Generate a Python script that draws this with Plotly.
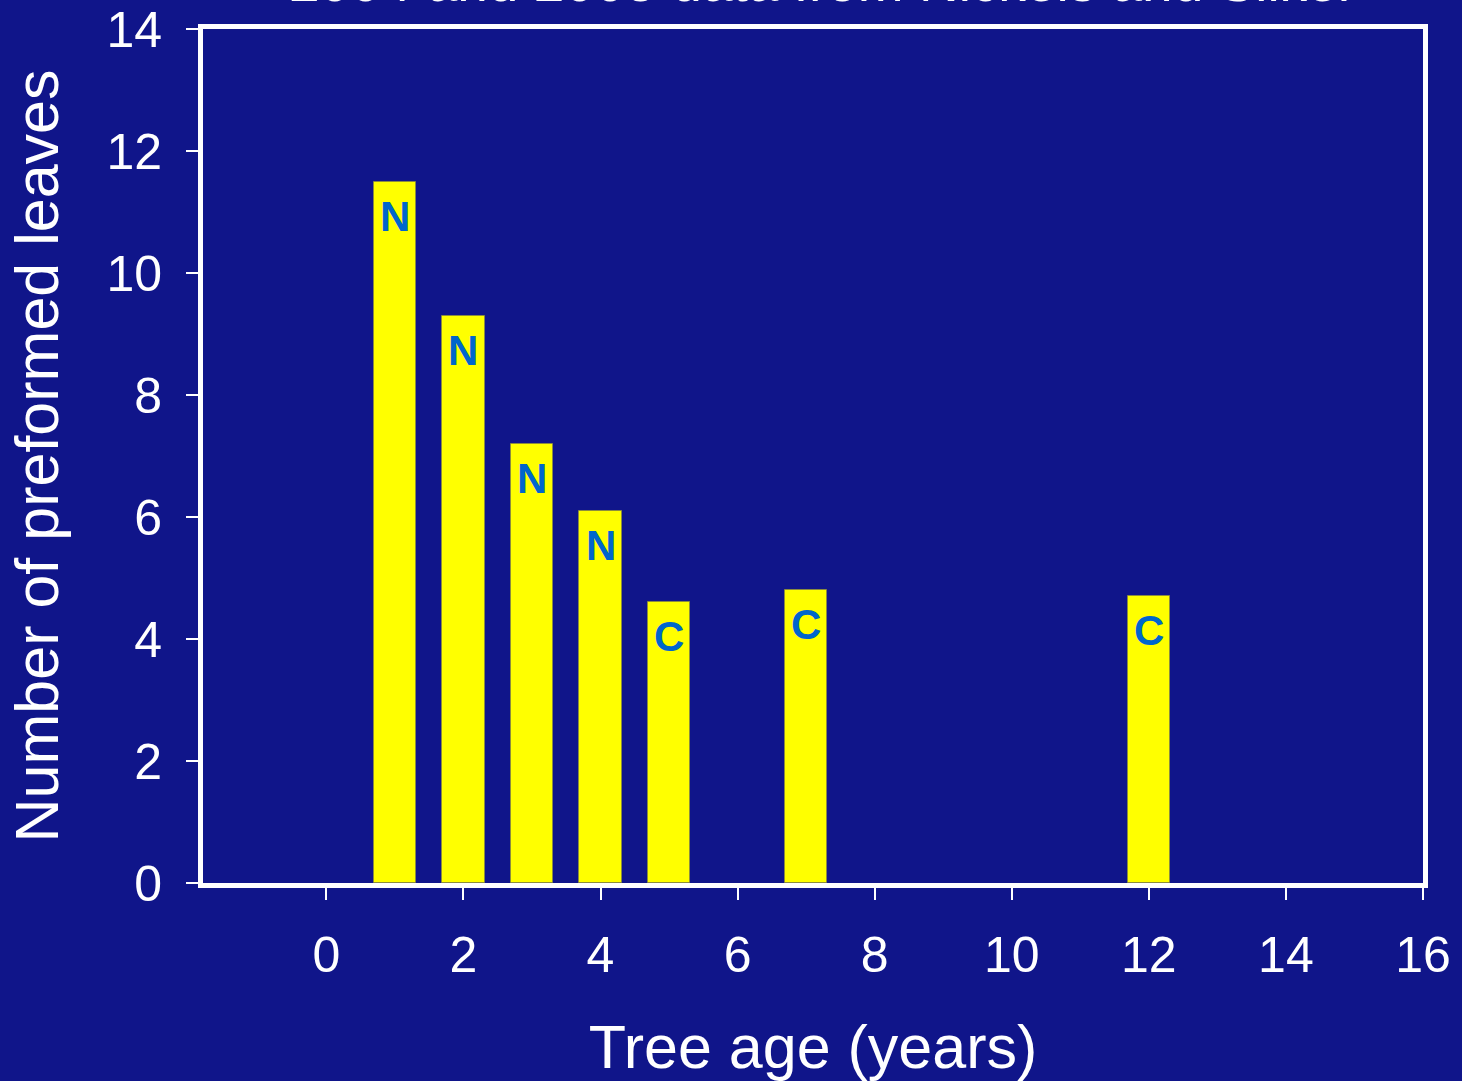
import plotly.graph_objects as go

# Data
ages = [1, 2, 3, 4, 5, 7, 12]
leaves = [11.5, 9.3, 7.2, 6.1, 4.6, 4.8, 4.7]
labels = ["N", "N", "N", "N", "C", "C", "C"]
x_ticks = [0, 2, 4, 6, 8, 10, 12, 14, 16]
y_ticks = [0, 2, 4, 6, 8, 10, 12, 14]

BG = "#10158A"
FONT = "Liberation Sans, Arial, sans-serif"

fig = go.Figure()
fig.add_trace(go.Bar(
    x=ages, y=leaves, width=0.62,
    marker=dict(color="#FFFF00", line=dict(color="rgba(140,140,60,0.8)", width=1)),
    showlegend=False, hoverinfo="x+y",
))

annotations = []
for a, v, t in zip(ages, leaves, labels):
    annotations.append(dict(
        x=a, y=v, xref="x", yref="y", text=t, showarrow=False,
        yanchor="top", yshift=-9,
        font=dict(family=FONT, size=42, color="#0066CC", weight="bold"),
    ))

annotations.append(dict(
    x=0.508, y=1, xref="paper", yref="paper", yanchor="bottom", xanchor="center",
    yshift=14, showarrow=False,
    text="2004 and 2005 data from Nickels and Silker",
    font=dict(family=FONT, size=55, color="white"),
))

axis_common = dict(
    showline=True, linewidth=5, linecolor="white", mirror=True,
    ticks="outside", ticklen=12, tickwidth=2, tickcolor="white",
    showgrid=False, zeroline=False, automargin=False,
    tickfont=dict(family=FONT, size=50, color="white"),
)

fig.update_layout(
    width=1462, height=1081,
    margin=dict(l=203, r=39, t=29, b=198),
    paper_bgcolor=BG, plot_bgcolor=BG,
    font=dict(family=FONT, color="white"),
    xaxis=dict(range=[-1.8, 16], tickvals=x_ticks, ticklabelstandoff=12,
               title=dict(text="Tree age (years)", font=dict(family=FONT, size=61, color="white"), standoff=46),
               **axis_common),
    yaxis=dict(range=[0, 14], tickvals=y_ticks, ticklabelstandoff=14,
               title=dict(text="Number of preformed leaves", font=dict(family=FONT, size=61, color="white"), standoff=30),
               **axis_common),
    annotations=annotations,
    bargap=0,
)

fig.write_html(
    "out.html",
    config={"displayModeBar": False},
    post_script="document.body.style.margin='0';document.body.style.overflow='hidden';document.body.style.background='" + BG + "';",
)
